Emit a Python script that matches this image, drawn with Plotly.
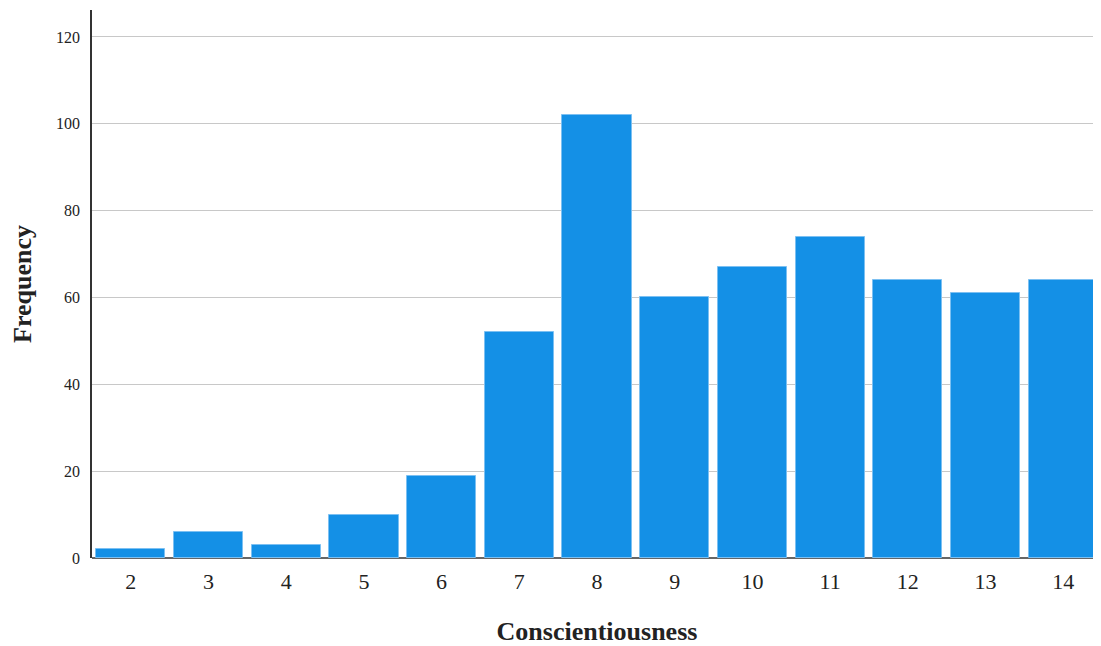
import plotly.graph_objects as go

scores = [2, 3, 4, 5, 6, 7, 8, 9, 10, 11, 12, 13, 14]
frequency = [2, 6, 3, 10, 19, 52, 102, 60, 67, 74, 64, 61, 64]
y_ticks = [0, 20, 40, 60, 80, 100, 120]

fig = go.Figure(go.Bar(
    x=scores, y=frequency, width=0.89,
    marker=dict(color="#1490e6", line=dict(color="#7cc0f2", width=1)),
))

fig.update_layout(
    width=1101, height=646,
    margin=dict(l=84, r=7, t=2, b=96),
    plot_bgcolor="white", paper_bgcolor="white",
    font=dict(family="Liberation Serif", color="#222"),
    showlegend=False,
    bargap=0,
)
fig.update_xaxes(
    range=[1.5, 14.5], tickvals=scores, ticktext=[str(s) for s in scores],
    tickfont=dict(size=22, family="Liberation Serif", color="#222"),
    showgrid=False, showline=False, zeroline=False, ticks="",
    ticklabelstandoff=8,
    title=dict(text="<b>Conscientiousness</b>", font=dict(size=26, family="Liberation Serif", color="#222"), standoff=28),
)
fig.update_yaxes(
    range=[0, 126.2], tickvals=y_ticks,
    tickfont=dict(size=16, family="Liberation Serif", color="#222"),
    showgrid=True, gridcolor="#c8c8c8", gridwidth=1.3,
    showline=True, linecolor="#333", linewidth=1.5,
    zeroline=True, zerolinecolor="#666", zerolinewidth=2,
    ticks="", ticklen=0, ticklabelstandoff=7,
    title=dict(text="<b>Frequency</b>", font=dict(size=26, family="Liberation Serif", color="#222"), standoff=28),
)

fig.write_html("out.html")
